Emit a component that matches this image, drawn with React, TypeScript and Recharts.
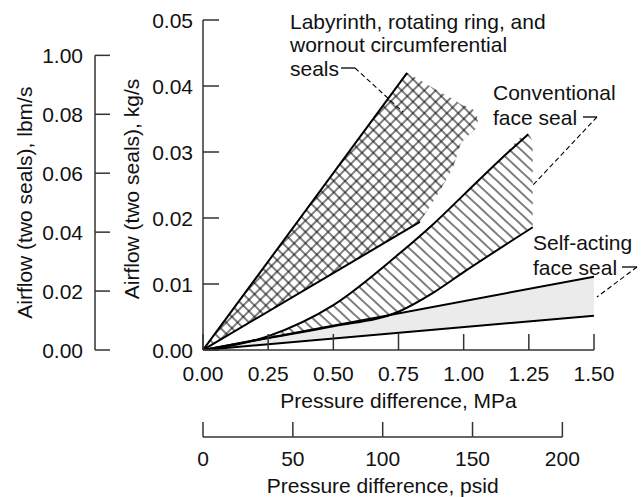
import React from "react";
import { ComposedChart, Area, Line, XAxis, YAxis } from "recharts";

// axes: pressure in MPa (psid below), airflow in kg/s (lbm/s on the far left)
const mpaTicks = [0, 0.25, 0.5, 0.75, 1.0, 1.25, 1.5];
const kgTicks = [0, 0.01, 0.02, 0.03, 0.04, 0.05];
const lbmTicks = [0, 0.02, 0.04, 0.06, 0.08, 0.1];
const lbmTickLabels = ["0.00", "0.02", "0.04", "0.06", "0.08", "1.00"];
const lbmMax = 0.112;
const psiTicks = [0, 50, 100, 150, 200];
const psiMax = 217.6;

// labyrinth, rotating ring and wornout circumferential seals
const labyrinthUpperX = [0, 0.783];
const labyrinthUpperY = [0, 0.042];
const labyrinthLowerX = [0, 0.832];
const labyrinthLowerY = [0, 0.0194];
const labyrinthFillX = [0, 0.783, 0.832, 0.87, 0.91, 0.96, 0.99, 1.02, 1.045, 1.055];
const labyrinthFillLow = [0, 0.0183, 0.0194, 0.0217, 0.0242, 0.0277, 0.0314, 0.0326, 0.0335, 0.0348];
const labyrinthFillHigh = [0, 0.042, 0.0409, 0.04, 0.0391, 0.038, 0.0372, 0.0368, 0.0362, 0.0348];

// conventional face seal
const conventionalUpperX = [0, 0.25, 0.5, 0.75, 0.884, 1.0, 1.139, 1.248];
const conventionalUpperY = [0, 0.0021, 0.0068, 0.0145, 0.0191, 0.0235, 0.0288, 0.0327];
const conventionalLowerX = [0, 0.25, 0.5, 0.75, 0.884, 1.0, 1.139, 1.265];
const conventionalLowerY = [0, 0.0018, 0.0036, 0.0058, 0.0087, 0.0118, 0.0154, 0.0186];
const conventionalFillX = [0, 0.25, 0.5, 0.75, 0.884, 1.0, 1.139, 1.248, 1.265];
const conventionalFillLow = [0, 0.0018, 0.0036, 0.0058, 0.0087, 0.0118, 0.0154, 0.0183, 0.0186];
const conventionalFillHigh = [0, 0.0021, 0.0068, 0.0145, 0.0191, 0.0235, 0.0288, 0.0327, 0.0315];

// self-acting face seal
const selfActingX = [0, 1.5];
const selfActingUpper = [0, 0.0111];
const selfActingLower = [0, 0.0052];

const pts = (xs: number[], ys: number[]) => xs.map((x, i) => ({ x, y: ys[i] }));
const band = (xs: number[], lo: number[], hi: number[]) =>
  xs.map((x, i) => ({ x, range: [lo[i], hi[i]] }));

// chart-level table only feeds the psid axis (no series sits on it)
const psiTable = psiTicks.map((psi) => ({ psi }));

const FONT = "'Liberation Sans', Arial, sans-serif";
const FS = 21;
const INK = "#111";
const AXIS = "#333";

let psiPrev = 0;
let lbmPrev = 0;

const mpaTick = (p: any) => (
  <g>
    <line x1={p.x} y1={p.y} x2={p.x} y2={p.y - 16} stroke={AXIS} strokeWidth={1.5} />
    <text x={p.x} y={p.y + 23} textAnchor="middle" dominantBaseline="central" fontSize={FS} fill={INK}>
      {p.payload.value.toFixed(2)}
    </text>
  </g>
);

const psiTick = (p: any) => {
  const prev = psiPrev;
  psiPrev = p.x;
  return (
    <g>
      {p.index > 0 && <line x1={prev} y1={p.y} x2={p.x} y2={p.y} stroke={AXIS} strokeWidth={1.5} />}
      <line x1={p.x} y1={p.y} x2={p.x} y2={p.y - 15} stroke={AXIS} strokeWidth={1.5} />
      <text x={p.x} y={p.y + 21} textAnchor="middle" dominantBaseline="central" fontSize={FS} fill={INK}>
        {p.payload.value}
      </text>
    </g>
  );
};

const kgTick = (p: any) => (
  <g>
    <line x1={p.x + 10} y1={p.y} x2={p.x + 26} y2={p.y} stroke={AXIS} strokeWidth={1.5} />
    <text x={p.x} y={p.y} textAnchor="end" dominantBaseline="central" fontSize={FS} fill={INK}>
      {p.payload.value.toFixed(2)}
    </text>
  </g>
);

const lbmTick = (p: any) => {
  const prev = lbmPrev;
  lbmPrev = p.y;
  return (
    <g>
      {p.index > 0 && <line x1={p.x + 12} y1={prev} x2={p.x + 12} y2={p.y} stroke={AXIS} strokeWidth={1.5} />}
      <line x1={p.x + 12} y1={p.y} x2={p.x + 27} y2={p.y} stroke={AXIS} strokeWidth={1.5} />
      <text x={p.x} y={p.y} textAnchor="end" dominantBaseline="central" fontSize={FS} fill={INK}>
        {lbmTickLabels[p.index]}
      </text>
    </g>
  );
};

const title = (text: string, fx: (vb: any) => number, fy: (vb: any) => number, rotate = false) =>
  (props: any) => {
    const vb = props.viewBox;
    const x = fx(vb);
    const y = fy(vb);
    return (
      <text
        x={x}
        y={y}
        textAnchor="middle"
        dominantBaseline="central"
        fontSize={FS}
        fill={INK}
        transform={rotate ? `rotate(-90 ${x} ${y})` : undefined}
      >
        {text}
      </text>
    );
  };

export default function App() {
  return (
    <div style={{ position: "absolute", left: 0, top: 0, width: 642, height: 497, background: "#fff", fontFamily: FONT }}>
      <svg width={0} height={0} style={{ position: "absolute" }}>
        <defs>
          <pattern id="xhatch" width={8} height={8} patternUnits="userSpaceOnUse" patternTransform="rotate(45)">
            <path d="M0 4 H8 M4 0 V8" stroke="#000" strokeWidth={1} />
          </pattern>
          <pattern id="dhatch" width={7.8} height={10} patternUnits="userSpaceOnUse" patternTransform="rotate(-47)">
            <path d="M3.9 0 V10" stroke="#000" strokeWidth={1} />
          </pattern>
        </defs>
      </svg>
      <ComposedChart width={642} height={497} data={psiTable} margin={{ top: 20, right: 48, bottom: 0, left: 0 }}>
        <XAxis
          xAxisId="mpa"
          dataKey="x"
          type="number"
          domain={[0, 1.5]}
          allowDataOverflow
          ticks={mpaTicks}
          interval={0}
          height={87}
          tickSize={0}
          tickMargin={0}
          tickLine={false}
          axisLine={{ stroke: AXIS, strokeWidth: 1.5 }}
          tick={mpaTick}
          label={{ content: title("Pressure difference, MPa", (vb) => vb.x + vb.width / 2, (vb) => vb.y + 50) }}
        />
        <XAxis
          xAxisId="psi"
          dataKey="psi"
          type="number"
          domain={[0, psiMax]}
          allowDataOverflow
          ticks={psiTicks}
          interval={0}
          height={60}
          tickSize={0}
          tickMargin={0}
          tickLine={false}
          axisLine={false}
          tick={psiTick}
          label={{
            content: title(
              "Pressure difference, psid",
              (vb) => vb.x + (vb.width * psiTicks[psiTicks.length - 1]) / psiMax / 2,
              (vb) => vb.y + 48
            ),
          }}
        />
        <YAxis
          yAxisId="kg"
          type="number"
          domain={[0, 0.05]}
          allowDataOverflow
          ticks={kgTicks}
          interval={0}
          width={108}
          tickSize={0}
          tickMargin={10}
          tickLine={false}
          axisLine={{ stroke: AXIS, strokeWidth: 1.5 }}
          tick={kgTick}
          label={{
            content: title("Airflow (two seals), kg/s", (vb) => vb.x + 36, (vb) => vb.y + vb.height / 2 + 4, true),
          }}
        />
        <YAxis
          yAxisId="lbm"
          type="number"
          domain={[0, lbmMax]}
          allowDataOverflow
          ticks={lbmTicks}
          interval={0}
          width={95}
          tickSize={0}
          tickMargin={12}
          tickLine={false}
          axisLine={false}
          tick={lbmTick}
          label={{
            content: title(
              "Airflow (two seals), lbm/s",
              (vb) => vb.x + 25,
              (vb) => vb.y + vb.height * (1 - (0.5 * lbmTicks[lbmTicks.length - 1]) / lbmMax),
              true
            ),
          }}
        />

        <Area xAxisId="mpa" yAxisId="kg" data={band(labyrinthFillX, labyrinthFillLow, labyrinthFillHigh)} dataKey="range" type="linear" stroke="none" fill="url(#xhatch)" fillOpacity={1} isAnimationActive={false} />
        <Area xAxisId="mpa" yAxisId="kg" data={band(conventionalFillX, conventionalFillLow, conventionalFillHigh)} dataKey="range" type="monotone" stroke="none" fill="url(#dhatch)" fillOpacity={1} isAnimationActive={false} />
        <Area xAxisId="mpa" yAxisId="kg" data={band(selfActingX, selfActingLower, selfActingUpper)} dataKey="range" type="linear" stroke="none" fill="#ebebeb" fillOpacity={1} isAnimationActive={false} />

        <Line xAxisId="mpa" yAxisId="kg" data={pts(labyrinthUpperX, labyrinthUpperY)} dataKey="y" type="linear" stroke="#000" strokeWidth={2} dot={false} isAnimationActive={false} />
        <Line xAxisId="mpa" yAxisId="kg" data={pts(labyrinthLowerX, labyrinthLowerY)} dataKey="y" type="linear" stroke="#000" strokeWidth={2} dot={false} isAnimationActive={false} />
        <Line xAxisId="mpa" yAxisId="kg" data={pts(conventionalUpperX, conventionalUpperY)} dataKey="y" type="monotone" stroke="#000" strokeWidth={2} dot={false} isAnimationActive={false} />
        <Line xAxisId="mpa" yAxisId="kg" data={pts(conventionalLowerX, conventionalLowerY)} dataKey="y" type="monotone" stroke="#000" strokeWidth={2} dot={false} isAnimationActive={false} />
        <Line xAxisId="mpa" yAxisId="kg" data={pts(selfActingX, selfActingUpper)} dataKey="y" type="linear" stroke="#000" strokeWidth={2} dot={false} isAnimationActive={false} />
        <Line xAxisId="mpa" yAxisId="kg" data={pts(selfActingX, selfActingLower)} dataKey="y" type="linear" stroke="#000" strokeWidth={2} dot={false} isAnimationActive={false} />
      </ComposedChart>

      <svg width={642} height={497} style={{ position: "absolute", left: 0, top: 0, pointerEvents: "none" }} fontSize={FS} fill={INK}>
        <text x={290} y={21} dominantBaseline="central">Labyrinth, rotating ring, and</text>
        <text x={290} y={44} dominantBaseline="central">wornout circumferential</text>
        <text x={290} y={68} dominantBaseline="central">seals</text>
        <path d="M341 68 H355" stroke="#000" strokeWidth={1.3} fill="none" />
        <path d="M355 68 L403 112" stroke="#000" strokeWidth={1.1} strokeDasharray="5 3" fill="none" />

        <text x={493} y={92} dominantBaseline="central">Conventional</text>
        <text x={493} y={117} dominantBaseline="central">face seal</text>
        <path d="M583 117 H597" stroke="#000" strokeWidth={1.3} fill="none" />
        <path d="M597 117 L533 185" stroke="#000" strokeWidth={1.1} strokeDasharray="5 3" fill="none" />

        <text x={533} y={242} dominantBaseline="central">Self-acting</text>
        <text x={533} y={267} dominantBaseline="central">face seal</text>
        <path d="M622 267 H637" stroke="#000" strokeWidth={1.3} fill="none" />
        <path d="M637 267 L597 297" stroke="#000" strokeWidth={1.1} strokeDasharray="5 3" fill="none" />
      </svg>
    </div>
  );
}
